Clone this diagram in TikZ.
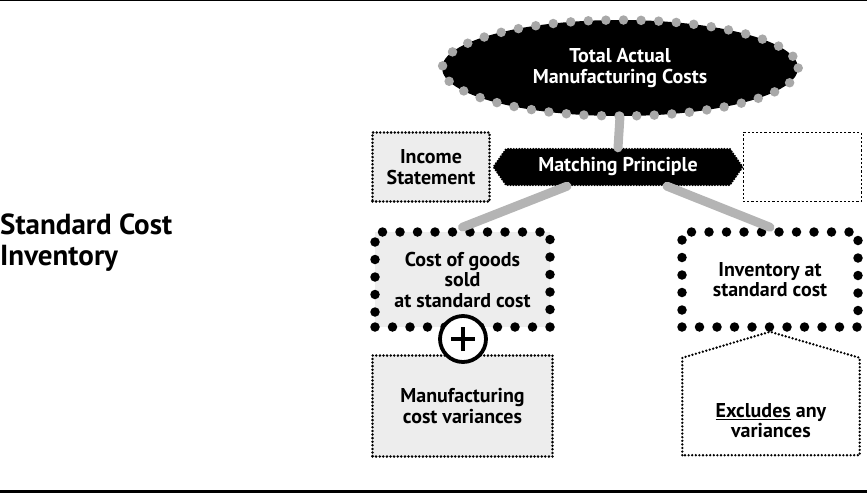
\documentclass[tikz,border=0pt]{standalone}
\usepackage{fontspec}
\setmainfont{PT Sans}
\usepackage{tikz}
\usetikzlibrary{shapes.geometric,shapes.symbols}

\definecolor{boxgray}{HTML}{EDEDED}
\definecolor{linegray}{HTML}{B4B4B4}
\definecolor{dotgray}{HTML}{A8A8A8}

\begin{document}
\begin{tikzpicture}[x=1pt,y=-1pt,font=\bfseries\fontsize{20}{20.5}\selectfont,
        bigdots/.style={draw=black,line width=9.5pt,line cap=round,dash pattern=on 0pt off 17.5pt,align=center,inner sep=0pt},
        smalldots/.style={draw=black,line width=2.8pt,line cap=round,dash pattern=on 0pt off 3.6pt,align=center,inner sep=0pt},
        conn/.style={draw=linegray,line width=9pt,line cap=round}]

        \useasboundingbox (0,0) rectangle (867,493);
        \draw[line width=1.2pt] (0,0.6) -- (867,0.6);
        \draw[line width=3pt] (0,491.5) -- (867,491.5);

            % Title
            \node[anchor=west,inner sep=0pt,align=left,font=\bfseries\fontsize{29}{31}\selectfont] (title) at (0,243) {Standard Cost\\Inventory};

            % Top nodes
            \node[ellipse,fill=black,text=white,align=center,minimum width=356,minimum height=96,inner sep=0pt] (total) at (620,68) {Total Actual\\Manufacturing Costs};
            \draw[dotgray,line width=9.5pt,line cap=round,dash pattern=on 0pt off 17.6pt] (total.east) arc[start angle=0,end angle=360,x radius=178,y radius=48];
            \node[signal,signal to=west and east,signal pointer angle=110,fill=black,draw=black,line width=2.4pt,line cap=round,dash pattern=on 0pt off 2.8pt,text=white,minimum width=249,minimum height=36,inner sep=0pt] (match) at (618,167) {Matching Principle};

            % Side boxes
            \node[smalldots,fill=boxgray,minimum width=117,minimum height=69] (income) at (431,167) {Income\\Statement};
            \node[draw=black,line width=1pt,dash pattern=on 2.2pt off 2pt,minimum width=118,minimum height=69] (blank) at (802,167) {};

            % Standard cost boxes
            \node[bigdots,fill=boxgray,minimum width=175,minimum height=95] (cogs) at (462.5,279.5) {Cost of goods\\sold\\at standard cost};
            \node[bigdots,fill=white,minimum width=176,minimum height=95] (inv) at (770,279.5) {Inventory at\\standard cost};

            % Variance boxes
            \node[smalldots,fill=boxgray,minimum width=180,minimum height=101] (mfg) at (462.5,406) {Manufacturing\\cost variances};
            \node[minimum width=177,minimum height=97,inner sep=0pt] (exc) at (771,406.5) {};
            \draw[black,line width=2.6pt,line cap=round,dash pattern=on 0pt off 3.6pt] (exc.south west) -- (exc.north west) -- (inv.south) -- (exc.north east) -- (exc.south east) -- cycle;
            \node[align=center,inner sep=0pt] (exctext) at ([yshift=-14pt]exc.center) {\underline{Excludes} any\\variances};

            % Connectors
            \path[conn] (total.south) -- (match.north);
            \path[conn] ([xshift=-51pt]match.south) -- (cogs.north);
            \path[conn] ([xshift=49pt]match.south) -- (inv.north);

            % Plus sign
            \node[circle,draw=black,fill=white,line width=3.8pt,minimum size=46,inner sep=0pt] (plus) at (463,339) {};
            \draw[line width=4.5pt] ([xshift=-12pt]plus.center) -- ([xshift=12pt]plus.center);
            \draw[line width=4.5pt] ([yshift=-12pt]plus.center) -- ([yshift=12pt]plus.center);

        \end{tikzpicture}
\end{document}
